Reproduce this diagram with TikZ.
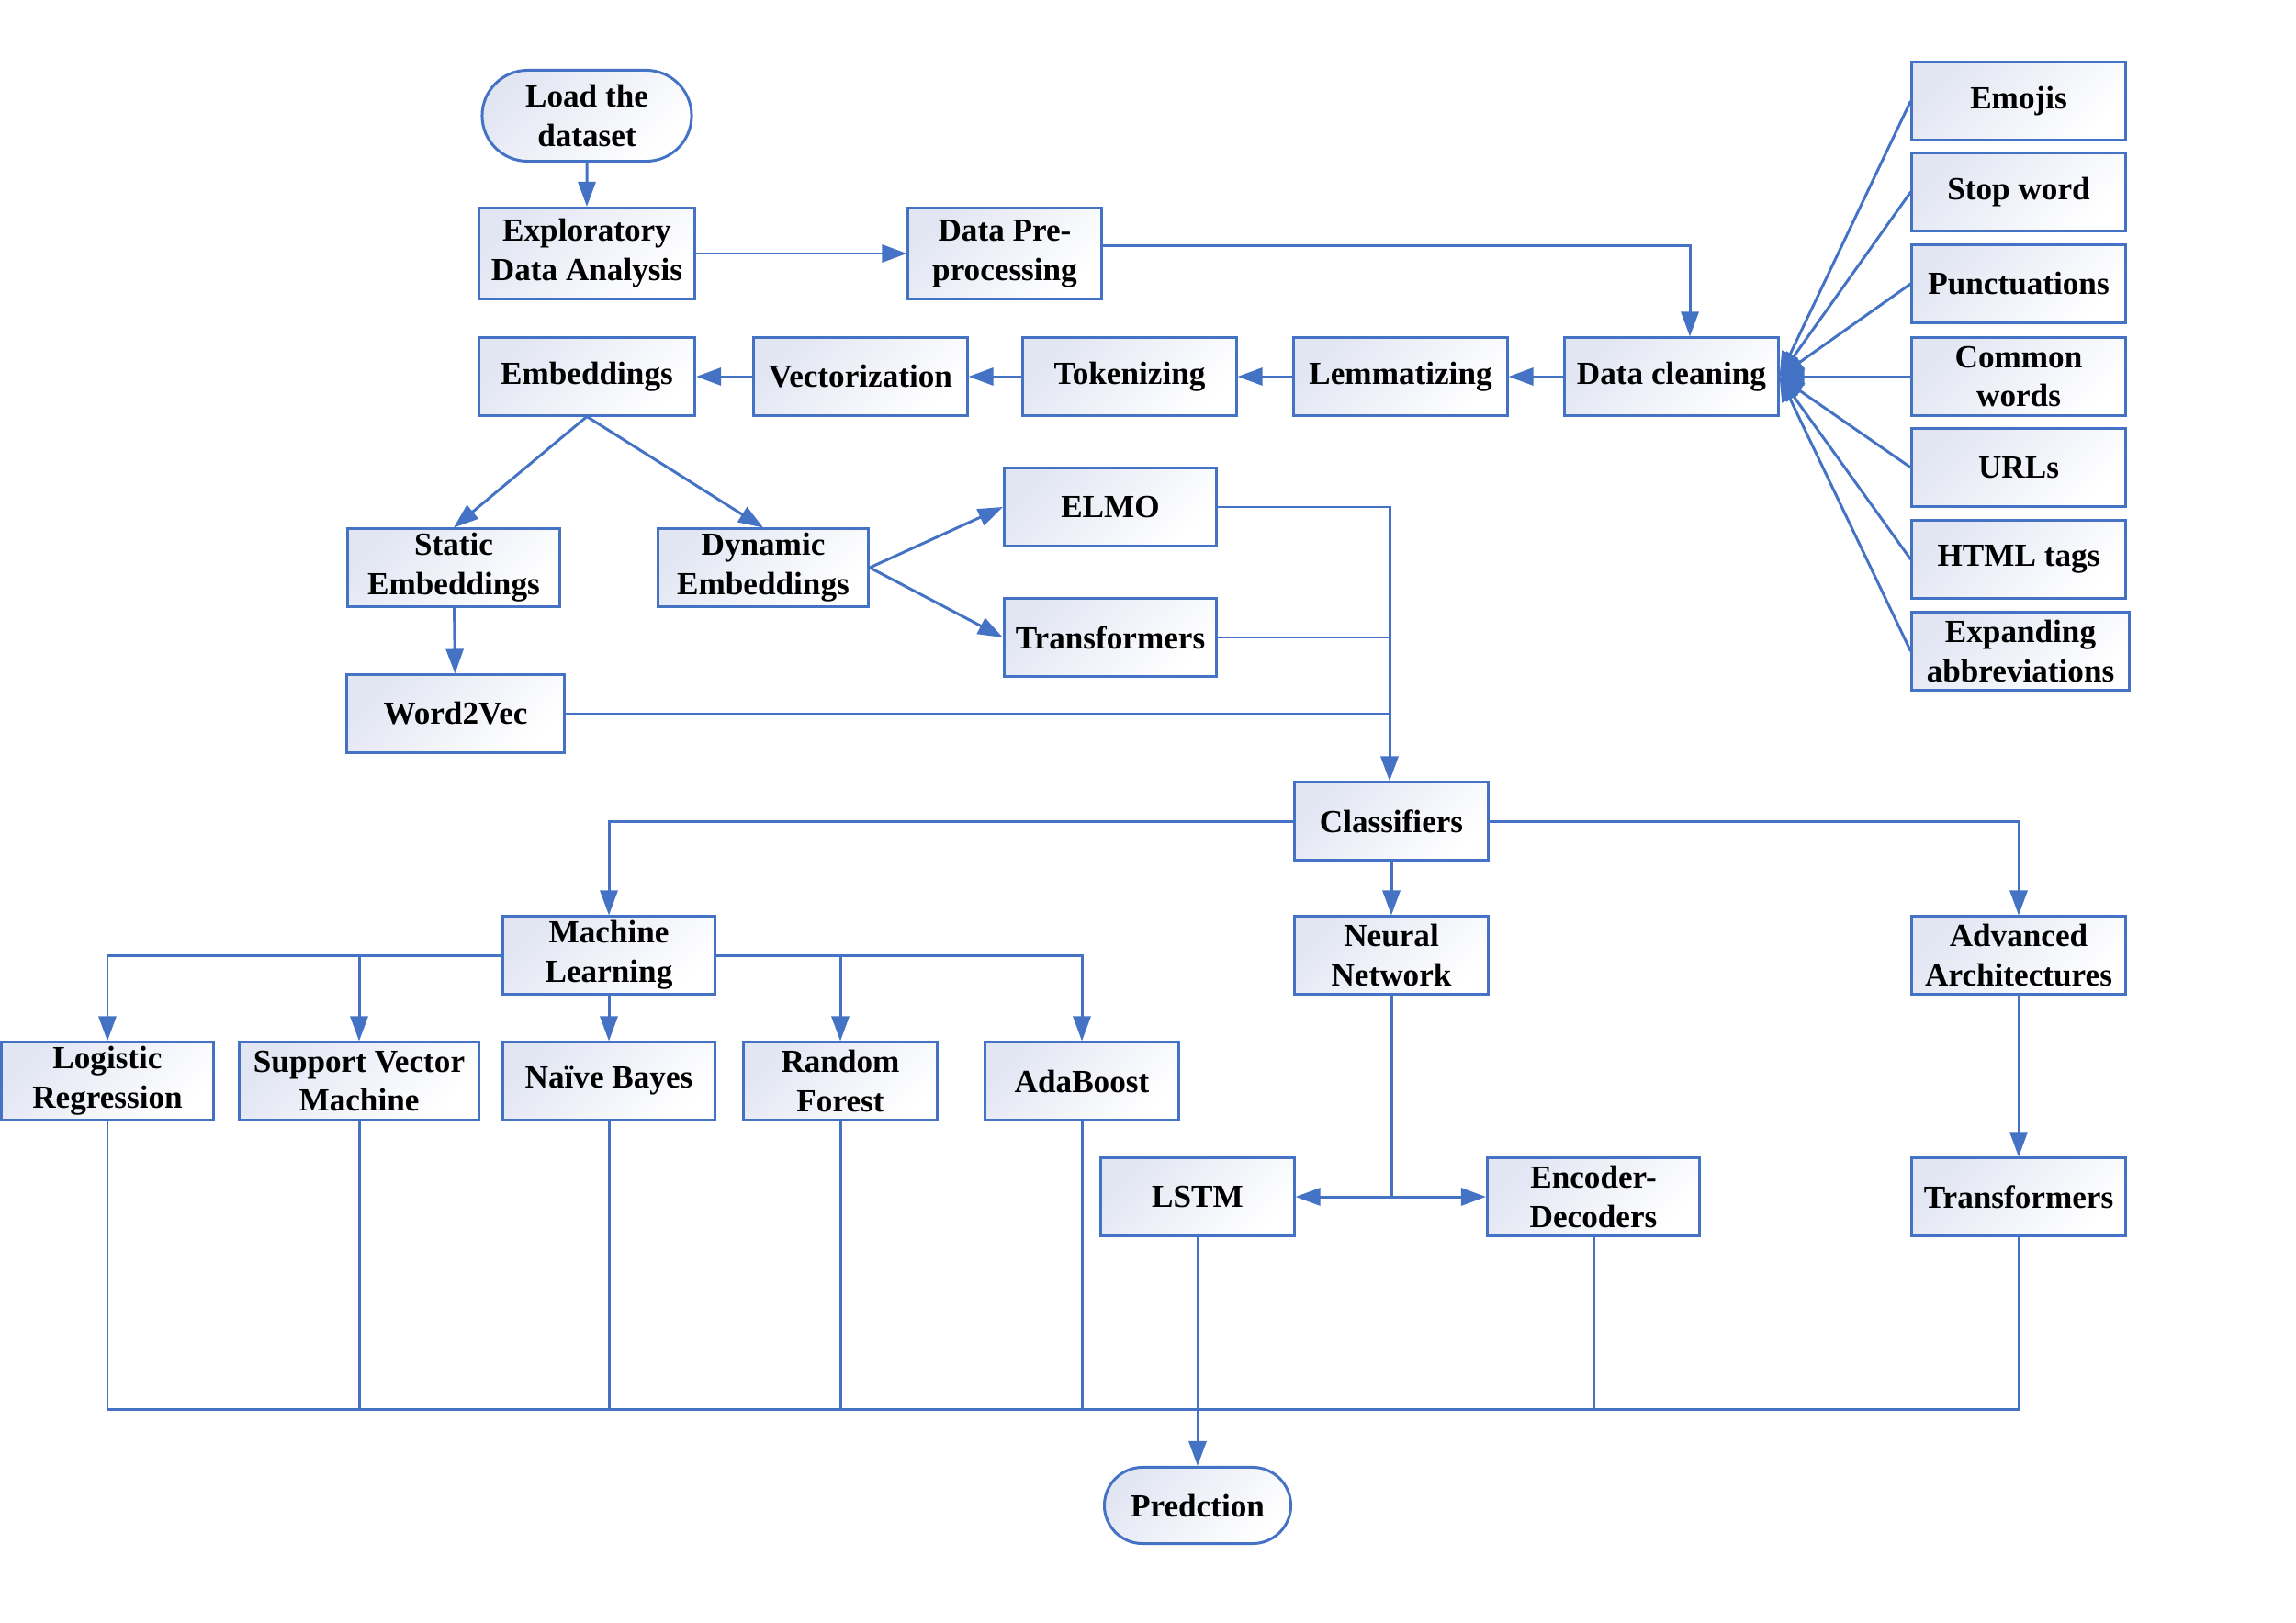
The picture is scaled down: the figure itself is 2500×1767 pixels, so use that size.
\documentclass[tikz,border=0pt]{standalone}
\usepackage{fontspec}
\setmainfont{Liberation Serif}
\usetikzlibrary{arrows.meta,shapes.misc}
\definecolor{lnblue}{HTML}{4472C4}
\definecolor{shadeblue}{HTML}{E2E6F3}
\begin{document}
\begin{tikzpicture}[x=0.01cm,y=-0.01cm,
  box/.style={draw=lnblue, line width=0.85pt, top color=shadeblue, bottom color=white, shading angle=45,
    minimum width=2.32cm, minimum height=0.84cm, align=center, inner sep=1pt,
    font=\fontsize{10}{12.2}\selectfont\bfseries},
  term/.style={box, rounded rectangle},
  con/.style={draw=lnblue, line width=0.85pt},
  arr/.style={con, -{Triangle[length=0.27cm,width=0.19cm]}},
  darr/.style={con, {Triangle[length=0.27cm,width=0.19cm]}-{Triangle[length=0.27cm,width=0.19cm]}},
]
\useasboundingbox (0,0) rectangle (2500,1767);

% top flow
\node[term, minimum width=2.35cm, minimum height=0.99cm] (load) at (639,126) {Load the\\dataset};
\node[box, minimum width=2.35cm, minimum height=0.99cm] (eda) at (639,276) {Exploratory\\Data Analysis};
\node[box, minimum width=2.10cm, minimum height=0.99cm] (pre) at (1094,276) {Data Pre-\\processing};

\node[box] (dc) at (1820,410) {Data cleaning};
\node[box] (lem) at (1525,410) {Lemmatizing};
\node[box] (tok) at (1230,410) {Tokenizing};
\node[box] (vec) at (937,410) {Vectorization};
\node[box, minimum width=2.35cm] (emb) at (639,410) {Embeddings};

% cleaning steps
\node[box] (emo) at (2198,110) {Emojis};
\node[box] (stop) at (2198,209) {Stop word};
\node[box] (punc) at (2198,309) {Punctuations};
\node[box] (comm) at (2198,410) {Common\\words};
\node[box] (url) at (2198,509) {URLs};
\node[box] (html) at (2198,609) {HTML tags};
\node[box, minimum width=2.36cm] (expa) at (2200,709) {Expanding\\abbreviations};

% embeddings
\node[box, minimum width=2.31cm] (stat) at (494,618) {Static\\Embeddings};
\node[box, minimum width=2.29cm] (dyn) at (831,618) {Dynamic\\Embeddings};
\node[box, minimum width=2.36cm] (w2v) at (496,777) {Word2Vec};
\node[box, minimum width=2.31cm] (elmo) at (1209,552) {ELMO};
\node[box, minimum width=2.31cm] (trA) at (1209,694) {Transformers};

% classifiers
\node[box, minimum width=2.11cm] (cls) at (1515,894) {Classifiers};
\node[box, minimum width=2.31cm] (ml) at (663,1040) {Machine\\Learning};
\node[box, minimum width=2.11cm] (nn) at (1515,1040) {Neural\\Network};
\node[box] (aa) at (2198,1040) {Advanced\\Architectures};

\node[box, minimum width=2.31cm] (lr) at (117,1177) {Logistic\\Regression};
\node[box, minimum width=2.61cm] (svm) at (391,1177) {Support Vector\\Machine};
\node[box, minimum width=2.31cm] (nb) at (663,1177) {Naïve Bayes};
\node[box, minimum width=2.10cm] (rf) at (915,1177) {Random\\Forest};
\node[box, minimum width=2.10cm] (ab) at (1178,1177) {AdaBoost};

\node[box, minimum width=2.10cm] (lstm) at (1304,1303) {LSTM};
\node[box, minimum width=2.31cm] (enc) at (1735,1303) {Encoder-\\Decoders};
\node[box] (trB) at (2198,1303) {Transformers};

\node[term, minimum width=2.10cm, minimum height=0.83cm] (pred) at (1304,1639) {Predction};

% connectors top
\draw[arr] (load) -- (eda);
\draw[arr] (eda) -- (pre);
\draw[arr] ([yshift=0.08cm]pre.east) -| ([xshift=0.2cm]dc.north);
\draw[arr] (dc) -- (lem);
\draw[arr] (lem) -- (tok);
\draw[arr] (tok) -- (vec);
\draw[arr] (vec) -- (emb);

\foreach \r in {emo,stop,punc,comm,url,html,expa}
  \draw[arr] (\r.west) -- (dc.east);

\draw[arr] (emb.south) -- (stat.north);
\draw[arr] (emb.south) -- (dyn.north);
\draw[arr] (stat) -- (w2v);
\draw[arr] (dyn.east) -- (elmo.west);
\draw[arr] (dyn.east) -- (trA.west);

\coordinate (col) at ([xshift=-0.02cm]cls.north);
\draw[arr] (elmo.east) -| (col);
\draw[con] (trA.east) -- (trA.east -| col);
\draw[con] (w2v.east) -- (w2v.east -| col);

\draw[arr] (cls.west) -| (ml.north);
\draw[arr] (cls.south) -- (nn.north);
\draw[arr] (cls.east) -| (aa.north);

\draw[arr] (ml.west) -| (lr.north);
\draw[arr] (ml.west) -| (svm.north);
\draw[arr] (ml.south) -- (nb.north);
\draw[arr] (ml.east) -| (rf.north);
\draw[arr] (ml.east) -| (ab.north);

\coordinate (nj) at (nn.south |- lstm.east);
\draw[con] (nn.south) -- (nj);
\draw[darr] (lstm.east) -- (enc.west);
\draw[arr] (aa) -- (trB);

% bottom bus
\coordinate (bus) at (0,1534);
\draw[con] (lr.south) |- (bus -| trB.south) -- (trB.south);
\foreach \b in {svm,nb,rf,ab,enc}
  \draw[con] (\b.south) -- (\b.south |- bus);
\draw[arr] (lstm.south) -- (pred.north);
\end{tikzpicture}
\end{document}
